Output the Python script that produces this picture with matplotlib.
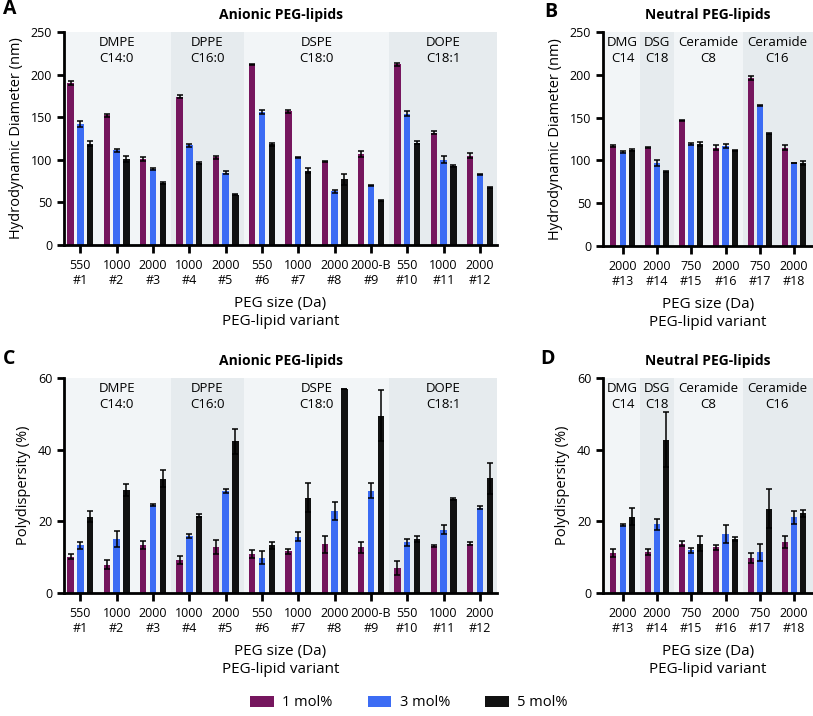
import matplotlib
matplotlib.use('Agg')
import matplotlib.pyplot as plt
import numpy as np
from matplotlib.patches import Patch

plt.rcParams['font.family'] = ['Open Sans', 'DejaVu Sans']

# ---------------- data ----------------
anionic_sizes = ['550', '1000', '2000', '1000', '2000', '550', '1000', '2000', '2000-B', '550', '1000', '2000']
anionic_ids = ['#1', '#2', '#3', '#4', '#5', '#6', '#7', '#8', '#9', '#10', '#11', '#12']
neutral_sizes = ['2000', '2000', '750', '2000', '750', '2000']
neutral_ids = ['#13', '#14', '#15', '#16', '#17', '#18']

anionic_groups = [('DMPE\nC14:0', 0, 2), ('DPPE\nC16:0', 3, 4), ('DSPE\nC18:0', 5, 8), ('DOPE\nC18:1', 9, 11)]
neutral_groups = [('DMG\nC14', 0, 0), ('DSG\nC18', 1, 1), ('Ceramide\nC8', 2, 3), ('Ceramide\nC16', 4, 5)]

series_names = ['1 mol%', '3 mol%', '5 mol%']

# Hydrodynamic diameter (nm), anionic
dia_a_1 = [190, 152, 101, 174, 103, 212, 157, 98, 107, 212, 132, 105]
dia_a_3 = [142, 111, 89, 117, 85, 156, 103, 63, 70, 154, 100, 83]
dia_a_5 = [119, 101, 73, 96, 59, 118, 87, 77, 52, 120, 93, 67]
dia_a_1_err = [2, 1.5, 2, 1.5, 2, 1, 1.5, 1, 3.5, 1.5, 2, 2.5]
dia_a_3_err = [3, 1.5, 1.5, 2, 1.5, 2.5, 0.5, 2, 1, 3, 4, 0.5]
dia_a_5_err = [2.5, 3, 1.5, 1.5, 0.5, 1.5, 3, 6, 0.5, 2, 1, 0.5]

# Hydrodynamic diameter (nm), neutral
dia_n_1 = [117, 115, 147, 115, 196, 115]
dia_n_3 = [110, 97, 119, 117, 164, 97]
dia_n_5 = [112, 87, 119, 112, 131, 97]
dia_n_1_err = [1, 1, 0.5, 3, 2.5, 3]
dia_n_3_err = [1, 3, 1.5, 2, 1, 0.5]
dia_n_5_err = [1, 0.5, 2.5, 0.5, 0.5, 2]

# Polydispersity (%), anionic
pdi_a_1 = [10.1, 7.9, 13.4, 9.2, 12.9, 11.0, 11.6, 13.6, 12.7, 7.0, 13.2, 13.7]
pdi_a_3 = [13.3, 15.1, 24.6, 16.0, 28.4, 9.8, 15.7, 22.9, 28.6, 14.1, 17.7, 23.8]
pdi_a_5 = [21.3, 28.7, 31.9, 21.6, 42.3, 13.3, 26.6, 56.9, 49.5, 15.0, 26.3, 32.0]
pdi_a_1_err = [0.7, 1.3, 1.2, 1.2, 2.0, 1.1, 0.7, 2.3, 1.6, 2.0, 0.3, 0.4]
pdi_a_3_err = [1.0, 2.3, 0.3, 0.6, 0.6, 1.8, 1.2, 2.5, 2.2, 1.0, 1.3, 0.4]
pdi_a_5_err = [1.5, 1.7, 2.3, 0.4, 3.4, 0.9, 4.0, 0.1, 7.2, 0.8, 0.3, 4.4]

# Polydispersity (%), neutral
pdi_n_1 = [11.2, 11.5, 13.7, 12.7, 9.8, 14.2]
pdi_n_3 = [18.9, 19.2, 11.9, 16.4, 11.4, 21.1]
pdi_n_5 = [21.3, 42.8, 13.8, 15.1, 23.5, 22.2]
pdi_n_1_err = [1.2, 0.8, 0.7, 0.6, 1.5, 1.7]
pdi_n_3_err = [0.3, 1.5, 0.6, 2.5, 2.4, 1.8]
pdi_n_5_err = [2.4, 7.6, 2.0, 0.5, 5.4, 1.0]

# ---------------- style ----------------
colors = ['#76165e', '#3c6cf4', '#111111']
shade_light = '#f2f5f7'
shade_dark = '#e6ebee'
W, H = 813, 716

fig = plt.figure(figsize=(W / 100, H / 100), dpi=100)


def px_axes(left, right, top, bottom):
    return fig.add_axes([left / W, 1 - bottom / H, (right - left) / W, (bottom - top) / H])


def draw_panel(ax, sizes, ids, groups, vals, errs, ylim, yticks, ylabel, title, xlim):
    n = len(sizes)
    x = np.arange(n)
    for gi, (name, s, e) in enumerate(groups):
        lo = s - 0.5 if gi > 0 else xlim[0]
        hi = e + 0.5 if gi < len(groups) - 1 else xlim[1]
        ax.axvspan(lo, hi, color=shade_light if gi % 2 == 0 else shade_dark, lw=0, zorder=0)
        ax.text((s + e) / 2, ylim[1] * 0.98, name, ha='center', va='top',
                fontsize=9.5, linespacing=1.25, zorder=3)
    off = 0.27
    w = 0.175
    for k in range(3):
        ax.bar(x + (k - 1) * off, vals[k], width=w, color=colors[k], zorder=2,
               yerr=errs[k], error_kw=dict(ecolor='black', elinewidth=1.1, capsize=2.2, capthick=1.1))
    ax.set_xlim(*xlim)
    ax.set_ylim(*ylim)
    ax.set_yticks(yticks)
    ax.set_xticks(x)
    ax.set_xticklabels([f'{a}\n{b}' for a, b in zip(sizes, ids)], linespacing=1.25)
    for sp in ['top', 'right']:
        ax.spines[sp].set_visible(False)
    for sp in ['left', 'bottom']:
        ax.spines[sp].set_linewidth(2)
    ax.tick_params(axis='both', width=2, length=5, labelsize=9, direction='out')
    ax.tick_params(axis='x', length=6, pad=4)
    ax.set_ylabel(ylabel, fontsize=10.5, labelpad=5)
    ax.set_xlabel('PEG size (Da)\nPEG-lipid variant', fontsize=11, labelpad=6, linespacing=1.3)
    ax.set_title(title, fontsize=10, fontweight='bold', pad=9)


axA = px_axes(64, 497, 32, 245)
axB = px_axes(603, 813, 32, 246)
axC = px_axes(64, 497, 378, 593)
axD = px_axes(603, 813, 378, 593)

xlimA = (-0.45, 11.47)
xlimB = (-0.57, 5.55)

draw_panel(axA, anionic_sizes, anionic_ids, anionic_groups,
           [dia_a_1, dia_a_3, dia_a_5], [dia_a_1_err, dia_a_3_err, dia_a_5_err],
           (0, 250), [0, 50, 100, 150, 200, 250], 'Hydrodynamic Diameter (nm)', 'Anionic PEG-lipids', xlimA)
draw_panel(axB, neutral_sizes, neutral_ids, neutral_groups,
           [dia_n_1, dia_n_3, dia_n_5], [dia_n_1_err, dia_n_3_err, dia_n_5_err],
           (0, 250), [0, 50, 100, 150, 200, 250], 'Hydrodynamic Diameter (nm)', 'Neutral PEG-lipids', xlimB)
draw_panel(axC, anionic_sizes, anionic_ids, anionic_groups,
           [pdi_a_1, pdi_a_3, pdi_a_5], [pdi_a_1_err, pdi_a_3_err, pdi_a_5_err],
           (0, 60), [0, 20, 40, 60], 'Polydispersity (%)', 'Anionic PEG-lipids', xlimA)
draw_panel(axD, neutral_sizes, neutral_ids, neutral_groups,
           [pdi_n_1, pdi_n_3, pdi_n_5], [pdi_n_1_err, pdi_n_3_err, pdi_n_5_err],
           (0, 60), [0, 20, 40, 60], 'Polydispersity (%)', 'Neutral PEG-lipids', xlimB)

# panel letters
for letter, (px, py) in zip('ABCD', [(10, 9), (551, 12), (9, 359), (547, 359)]):
    fig.text(px / W, 1 - py / H, letter, fontsize=14, fontweight='bold', ha='center', va='center')

handles = [Patch(facecolor=c, edgecolor='none') for c in colors]
fig.legend(handles, series_names, loc='center', bbox_to_anchor=(409 / W, 1 - 703 / H),
           ncol=3, frameon=False, fontsize=10.5, handlelength=1.6, handleheight=0.85,
           handletextpad=0.6, columnspacing=2.4)

fig.savefig('out.png', dpi=100)
